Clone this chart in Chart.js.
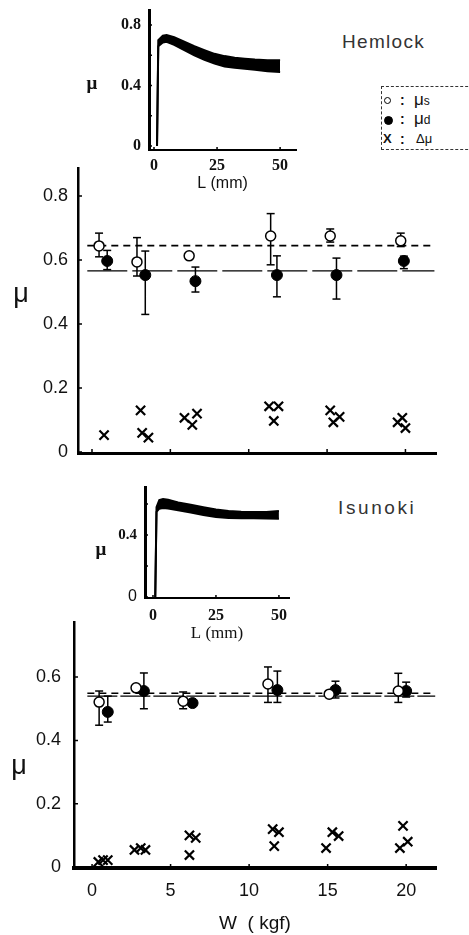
<!DOCTYPE html>
<html>
<head>
<meta charset="utf-8">
<script src="https://cdn.jsdelivr.net/npm/chart.js@4.4.1/dist/chart.umd.min.js"></script>
<style>
  body { margin: 0; background: #fff; width: 469px; height: 935px; position: relative; overflow: hidden; font-family: 'Liberation Sans', sans-serif; color: #111; }
  .box { position: absolute; }
  canvas { display: block; }
  .lbl { position: absolute; white-space: nowrap; }
  .mu { position: absolute; transform: translateX(-50%); line-height: 1; }
  #legendBox { position: absolute; left: 381px; top: 86px; width: 100px; height: 62px; border: 1px dashed #333; }
  #legendBox .s { position: absolute; }
  .dot { position: absolute; width: 7px; height: 7px; border-radius: 50%; border: 1.5px solid #000; box-sizing: border-box; }
</style>
</head>
<body>

<div class="box" style="left:0;top:150px"><canvas id="hemMain" width="469" height="320"></canvas></div>
<div class="box" style="left:0;top:600px"><canvas id="isuMain" width="469" height="335"></canvas></div>
<div class="box" style="left:60px;top:0"><canvas id="hemInset" width="260" height="200"></canvas></div>
<div class="box" style="left:60px;top:470px"><canvas id="isuInset" width="260" height="175"></canvas></div>

<div class="lbl" style="left:342px;top:31px;font-size:19px;letter-spacing:1.3px;color:#333">Hemlock</div>
<div class="lbl" style="left:338px;top:497px;font-size:19px;letter-spacing:2.6px;color:#333">Isunoki</div>

<div class="mu" style="left:21px;top:280px;font-size:27px">μ</div>
<div class="mu" style="left:19px;top:752px;font-size:27px">μ</div>
<div class="mu" style="left:92px;top:73px;font-size:19px;font-family:'Liberation Serif',serif;font-weight:bold">μ</div>
<div class="mu" style="left:101px;top:539px;font-size:19px;font-family:'Liberation Serif',serif;font-weight:bold">μ</div>

<div id="legendBox">
  <div class="dot" style="left:2px;top:10px;background:#fff"></div>
  <div class="s" style="left:18px;top:5px;font-size:14px;font-weight:bold">:</div>
  <div class="s" style="left:32px;top:3px;font-size:17px">μ<span style="font-size:12px">s</span></div>
  <div class="dot" style="left:2px;top:29px;width:9px;height:9px;background:#000"></div>
  <div class="s" style="left:18px;top:24px;font-size:14px;font-weight:bold">:</div>
  <div class="s" style="left:32px;top:22px;font-size:17px">μ<span style="font-size:12px">d</span></div>
  <div class="s" style="left:1px;top:44px;font-size:13px;font-weight:bold">X</div>
  <div class="s" style="left:18px;top:44px;font-size:14px;font-weight:bold">:</div>
  <div class="s" style="left:34px;top:44px;font-size:13px">Δμ</div>
</div>

<script>
// ---- Hemlock, mu vs W ----
const hemW_s = [0.45, 2.87, 6.2, 11.4, 15.2, 19.7];
const hemMuS = [0.644, 0.594, 0.613, 0.675, 0.675, 0.660];
const hemMuS_hi = [0.684, 0.670, null, 0.745, 0.697, 0.684];
const hemMuS_lo = [0.610, 0.550, null, 0.585, 0.656, 0.642];
const hemW_d = [0.97, 3.4, 6.6, 11.8, 15.6, 19.9];
const hemMuD = [0.597, 0.553, 0.534, 0.553, 0.553, 0.597];
const hemMuD_hi = [0.630, 0.628, 0.578, 0.613, 0.606, 0.612];
const hemMuD_lo = [0.570, 0.430, 0.500, 0.485, 0.478, 0.573];
const hemW_x = [0.77, 3.1, 3.2, 3.6, 5.9, 6.4, 6.7, 11.3, 11.9, 11.6, 15.2, 15.4, 15.8, 19.5, 19.8, 20.0];
const hemDMu = [0.053, 0.130, 0.060, 0.045, 0.107, 0.085, 0.120, 0.143, 0.143, 0.097, 0.130, 0.093, 0.110, 0.093, 0.107, 0.075];
const hemMeanS = 0.645;
const hemMeanD = 0.566;

// ---- Isunoki, mu vs W ----
const isuW_s = [0.45, 2.8, 5.8, 11.2, 15.1, 19.5];
const isuMuS = [0.521, 0.566, 0.524, 0.578, 0.546, 0.556];
const isuMuS_hi = [0.556, null, 0.553, 0.632, null, 0.612];
const isuMuS_lo = [0.448, null, 0.500, 0.520, null, 0.520];
const isuW_d = [1.0, 3.3, 6.4, 11.8, 15.5, 20.0];
const isuMuD = [0.490, 0.556, 0.518, 0.559, 0.559, 0.556];
const isuMuD_hi = [0.540, 0.613, null, 0.619, 0.587, 0.584];
const isuMuD_lo = [0.458, 0.500, null, 0.520, 0.534, 0.537];
const isuW_x = [0.4, 0.7, 1.0, 2.7, 3.1, 3.4, 6.2, 6.2, 6.6, 11.5, 11.9, 11.6, 14.9, 15.3, 15.7, 19.8, 19.6, 20.1];
const isuDMu = [0.016, 0.022, 0.022, 0.054, 0.060, 0.054, 0.038, 0.100, 0.092, 0.120, 0.110, 0.066, 0.060, 0.110, 0.098, 0.130, 0.060, 0.080];
const isuMeanS = 0.549;
const isuMeanD = 0.540;

const meanSpan = [-0.3, 21.85];
const wTicks = [0, 5, 10, 15, 20];
const muTicks = [0, 0.2, 0.4, 0.6, 0.8];

// ---- insets, mu vs sliding distance L ----
const hemL = [1.2, 1.7, 3.5, 5, 8, 12, 16, 20, 24, 28, 32, 36, 40, 45, 50];
const hemUpper = [0, 0.700, 0.730, 0.735, 0.720, 0.690, 0.660, 0.635, 0.610, 0.595, 0.585, 0.578, 0.572, 0.567, 0.568];
const hemLower = [0, 0.660, 0.685, 0.690, 0.670, 0.635, 0.600, 0.570, 0.545, 0.527, 0.518, 0.512, 0.505, 0.495, 0.490];
const isuL = [0.9, 1.4, 2.5, 4, 6, 10, 15, 20, 25, 30, 35, 40, 45, 50];
const isuUpper = [0, 0.580, 0.625, 0.632, 0.628, 0.610, 0.595, 0.580, 0.565, 0.556, 0.550, 0.548, 0.548, 0.555];
const isuLower = [0, 0.550, 0.570, 0.575, 0.572, 0.560, 0.545, 0.530, 0.516, 0.510, 0.508, 0.508, 0.507, 0.505];
const lTicks = [0, 25, 50];

function pts(xs, ys) { return xs.map((x, i) => ({ x: x, y: ys[i] })); }
function stems(xs, hi, lo) {
  const d = [];
  xs.forEach((x, i) => { if (hi[i] == null) return; d.push({ x: x, y: lo[i] }, { x: x, y: hi[i] }, { x: x, y: null }); });
  return d;
}
function caps(xs, hi, lo) {
  const d = [];
  xs.forEach((x, i) => { if (hi[i] == null) return; d.push({ x: x, y: hi[i] }, { x: x, y: lo[i] }); });
  return d;
}
function fixTicks(vals) { return s => { s.ticks = vals.map(v => ({ value: v })); }; }
function fixSize(size, horiz) {
  return s => {
    if (horiz) s.height = size; else s.width = size;
    s.paddingLeft = s.paddingRight = s.paddingTop = s.paddingBottom = 0;
  };
}

// small tick marks drawn inside the axes
const innerTicks = {
  id: 'innerTicks',
  afterDraw(chart, args, opts) {
    const { ctx, chartArea: a, scales } = chart;
    const len = opts.len || 4;
    ctx.save();
    ctx.strokeStyle = '#000';
    ctx.lineWidth = opts.width || 1.5;
    ctx.beginPath();
    scales.x.ticks.forEach(t => {
      const px = scales.x.getPixelForValue(t.value);
      ctx.moveTo(px, a.bottom); ctx.lineTo(px, a.bottom - len);
    });
    scales.y.ticks.forEach(t => {
      const py = scales.y.getPixelForValue(t.value);
      ctx.moveTo(a.left, py); ctx.lineTo(a.left + len, py);
    });
    ctx.stroke();
    ctx.restore();
  }
};
Chart.register(innerTicks);

function mainChart(id, o) {
  return new Chart(document.getElementById(id), {
    type: 'scatter',
    data: {
      datasets: [
        { data: pts(o.wS, o.muS), pointStyle: 'circle', pointRadius: 5, backgroundColor: '#fff', borderColor: '#000', borderWidth: 1.5 },
        { data: pts(o.wD, o.muD), pointStyle: 'circle', pointRadius: 5.5, backgroundColor: '#000', borderColor: '#000', borderWidth: 1 },
        { data: pts(o.wX, o.dMu), pointStyle: 'crossRot', pointRadius: 6.5, borderColor: '#000', borderWidth: 2.2 },
        { data: caps(o.wS, o.sHi, o.sLo), pointStyle: 'line', pointRadius: 4, borderColor: '#000', borderWidth: 1.5 },
        { data: caps(o.wD, o.dHi, o.dLo), pointStyle: 'line', pointRadius: 4, borderColor: '#000', borderWidth: 1.5 },
        { data: stems(o.wS, o.sHi, o.sLo), showLine: true, spanGaps: false, pointRadius: 0, borderColor: '#000', borderWidth: 1.5 },
        { data: stems(o.wD, o.dHi, o.dLo), showLine: true, spanGaps: false, pointRadius: 0, borderColor: '#000', borderWidth: 1.5 },
        { data: meanSpan.map(x => ({ x: x, y: o.meanS })), showLine: true, pointRadius: 0, borderColor: '#000', borderWidth: 1.6, borderDash: [7, 5] },
        { data: meanSpan.map(x => ({ x: x, y: o.meanD })), showLine: true, pointRadius: 0, borderColor: '#000', borderWidth: 1.4, borderDash: o.dashD }
      ]
    },
    options: {
      responsive: false,
      animation: false,
      events: [],
      layout: { autoPadding: false, padding: o.pad },
      plugins: { legend: { display: false }, tooltip: { enabled: false }, innerTicks: { len: 4, width: 1.5 } },
      scales: {
        x: {
          type: 'linear', min: o.xMin, max: o.xMax,
          afterBuildTicks: fixTicks(wTicks),
          afterFit: fixSize(o.xH, true),
          grid: { drawOnChartArea: false, drawTicks: false },
          border: { display: true, width: o.xBorder, color: '#000' },
          ticks: { display: o.xLabels, padding: 12, color: '#111', font: { family: 'Liberation Sans', size: 18 } },
          title: { display: o.xLabels, text: 'W  ( kgf)', color: '#111', font: { family: 'Liberation Sans', size: 19 }, padding: { top: 0, bottom: 0 } }
        },
        y: {
          type: 'linear', min: o.yMin, max: o.yMax,
          afterBuildTicks: fixTicks(muTicks.filter(v => v <= o.yMax)),
          afterFit: fixSize(o.yW, false),
          grid: { drawOnChartArea: false, drawTicks: false },
          border: { display: true, width: 2.5, color: '#000' },
          ticks: { padding: o.yPad, color: '#111', font: { family: 'Liberation Sans', size: 18 },
                   callback: v => v === 0 ? '0' : v.toFixed(1) }
        }
      }
    }
  });
}

mainChart('hemMain', {
  wS: hemW_s, muS: hemMuS, sHi: hemMuS_hi, sLo: hemMuS_lo,
  wD: hemW_d, muD: hemMuD, dHi: hemMuD_hi, dLo: hemMuD_lo,
  wX: hemW_x, dMu: hemDMu, meanS: hemMeanS, meanD: hemMeanD, dashD: [40, 5],
  xMin: -0.893, xMax: 21.95, yMin: -0.003, yMax: 0.8875,
  pad: { left: 0, right: 33, top: 18, bottom: 0 }, xH: 17, yW: 78, yPad: 10, xBorder: 3, xLabels: false
});

mainChart('isuMain', {
  wS: isuW_s, muS: isuMuS, sHi: isuMuS_hi, sLo: isuMuS_lo,
  wD: isuW_d, muD: isuMuD, dHi: isuMuD_hi, dLo: isuMuD_lo,
  wX: isuW_x, dMu: isuDMu, meanS: isuMeanS, meanD: isuMeanD, dashD: [30, 3],
  xMin: -1.15, xMax: 21.9, yMin: -0.003, yMax: 0.774,
  pad: { left: 0, right: 33, top: 22, bottom: 0 }, xH: 67, yW: 74, yPad: 13, xBorder: 4, xLabels: true
});

function insetChart(id, o) {
  return new Chart(document.getElementById(id), {
    type: 'scatter',
    data: {
      datasets: [
        { data: pts(o.L, o.upper), showLine: true, pointRadius: 0, borderColor: '#000', borderWidth: 2, fill: '+1', backgroundColor: '#000' },
        { data: pts(o.L, o.lower), showLine: true, pointRadius: 0, borderColor: '#000', borderWidth: 2 }
      ]
    },
    options: {
      responsive: false,
      animation: false,
      events: [],
      layout: { autoPadding: false, padding: o.pad },
      plugins: { legend: { display: false }, tooltip: { enabled: false }, innerTicks: { len: 3, width: 1.5 } },
      scales: {
        x: {
          type: 'linear', min: o.xMin, max: o.xMax,
          afterBuildTicks: fixTicks(lTicks),
          afterFit: fixSize(o.xH, true),
          grid: { drawOnChartArea: false, drawTicks: false },
          border: { display: true, width: 2, color: '#000' },
          ticks: { padding: o.xPad, color: '#111', font: { family: 'Liberation Serif', size: 16, weight: 'bold' } },
          title: { display: true, text: 'L (mm)', color: '#111', font: o.titleFont, padding: { top: 0, bottom: o.titlePad } }
        },
        y: {
          type: 'linear', min: o.yMin, max: o.yMax,
          afterBuildTicks: fixTicks(o.yTicks),
          afterFit: fixSize(o.yW, false),
          grid: { drawOnChartArea: false, drawTicks: false },
          border: { display: true, width: 3, color: '#000' },
          ticks: { padding: 8, color: '#111', font: o.yFont,
                   callback: v => o.yLabels.includes(v) ? (v === 0 ? '0' : v.toFixed(1)) : '' }
        }
      }
    }
  });
}

insetChart('hemInset', {
  L: hemL, upper: hemUpper, lower: hemLower,
  xMin: -1.98, xMax: 56.3, yMin: -0.026, yMax: 0.9,
  yTicks: [0, 0.2, 0.4, 0.6, 0.8], yLabels: [0, 0.4, 0.8],
  pad: { left: 0, right: 24, top: 10, bottom: 0 }, xH: 50, yW: 89, xPad: 6, titlePad: 7,
  titleFont: { family: 'Liberation Sans', size: 16 },
  yFont: { family: 'Liberation Serif', size: 16, weight: 'bold' }
});

insetChart('isuInset', {
  L: isuL, upper: isuUpper, lower: isuLower,
  xMin: -3.17, xMax: 54, yMin: -0.006, yMax: 0.71,
  yTicks: [0, 0.2, 0.4, 0.6], yLabels: [0, 0.4],
  pad: { left: 0, right: 31, top: 17, bottom: 0 }, xH: 47, yW: 85, xPad: 8, titlePad: 1,
  titleFont: { family: 'Liberation Serif', size: 17 },
  yFont: c => (c.tick && c.tick.value === 0) ? { family: 'Liberation Sans', size: 16 } : { family: 'Liberation Serif', size: 15, weight: 'bold' }
});
</script>
</body>
</html>
